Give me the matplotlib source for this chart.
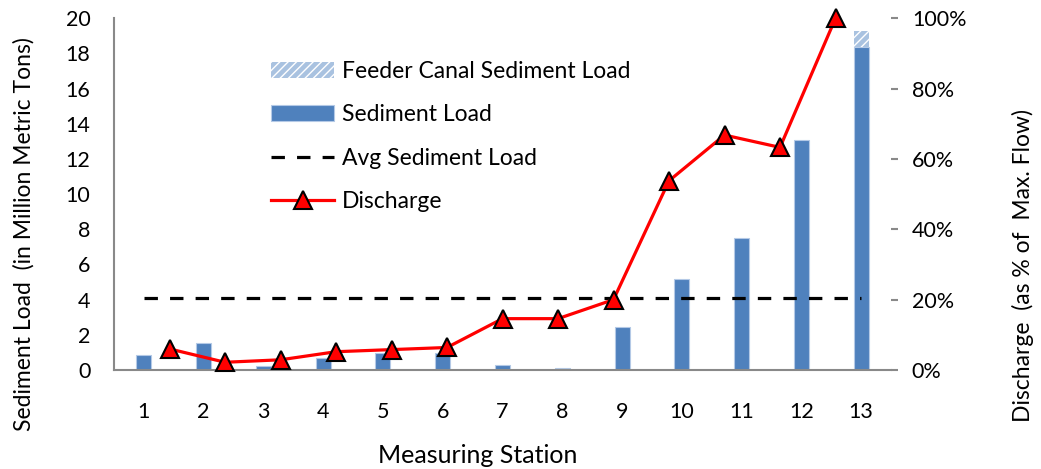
import matplotlib
matplotlib.use("Agg")
import matplotlib.pyplot as plt
from matplotlib.ticker import FuncFormatter

# ---- data ----
stations = ["1", "2", "3", "4", "5", "6", "7", "8", "9", "10", "11", "12", "13"]
sediment_load = [0.85, 1.52, 0.25, 0.70, 0.99, 0.99, 0.28, 0.12, 2.45, 5.15, 7.50, 13.10, 18.35]
feeder_load = [0, 0, 0, 0, 0, 0, 0, 0, 0, 0, 0, 0, 0.91]
discharge_pct = [6, 2.2, 2.9, 5.2, 5.8, 6.4, 14.6, 14.6, 20.0, 53.8, 66.8, 63.3, 100]
avg_sediment = 4.08

plt.rcParams['font.family'] = ['Lato', 'DejaVu Sans']
FS_TICK = 15.5
FS_LEG = 16.5
FS_YLAB = 16.5
FS_XLAB = 18
BLUE = '#4F81BD'
GRAY = '#898989'

W, H = 1041, 469
fig = plt.figure(figsize=(W / 100, H / 100), dpi=100)
pos = [114 / W, (H - 370) / H, (891 - 114) / W, (370 - 18.3) / H]

ax = fig.add_axes(pos)
x = list(range(1, len(stations) + 1))
bw = 0.25
b1 = ax.bar(x, sediment_load, width=bw, color=BLUE, edgecolor='#B4C9E6',
            linewidth=0.8, label='Sediment Load', zorder=2)
b2 = ax.bar(x, feeder_load, width=bw, bottom=sediment_load, color='#A9C2E0',
            edgecolor='white', hatch='////', linewidth=0,
            label='Feeder Canal Sediment Load', zorder=2)
avg_line, = ax.plot([1, 13], [avg_sediment, avg_sediment], color='black', lw=2.3,
                    linestyle=(0, (4.2, 3.8)), label='Avg Sediment Load', zorder=3)

ax.set_xlim(0.5, 13.5)
ax.set_ylim(0, 20)
ax.set_yticks(range(0, 21, 2))
ax.set_xticks(x)
ax.set_xticklabels(stations)
ax.tick_params(axis='y', length=0, pad=17, labelsize=FS_TICK)
ax.tick_params(axis='x', length=0, pad=23, labelsize=FS_TICK)
for s in ['top', 'right']:
    ax.spines[s].set_visible(False)
for s in ['left', 'bottom']:
    ax.spines[s].set_color(GRAY)
    ax.spines[s].set_linewidth(1.5)

# secondary axes for discharge (own category scale)
ax2 = fig.add_axes(pos, frameon=False)
ax2.patch.set_visible(False)
line, = ax2.plot(x, discharge_pct, color='#FF0000', lw=2.3, marker='^',
                 markersize=13, markerfacecolor='#FF0000', markeredgecolor='black',
                 markeredgewidth=1.5, label='Discharge', zorder=4, clip_on=False)
ax2.set_xlim(0, 14)
ax2.set_ylim(0, 100)
ax2.xaxis.set_visible(False)
ax2.yaxis.tick_right()
ax2.set_yticks(range(0, 101, 20))
ax2.yaxis.set_major_formatter(FuncFormatter(lambda v, p: f"{int(v)}%"))
ax2.tick_params(axis='y', direction='out', length=5, width=1.5, color=GRAY,
                pad=10, labelsize=FS_TICK)
ax2.spines['right'].set_visible(True)
ax2.spines['right'].set_color(GRAY)
ax2.spines['right'].set_linewidth(1.5)

# labels
fig.text(24 / W, 1 - 234 / H, 'Sediment Load  (in Million Metric Tons)', rotation=90,
         ha='center', va='center', fontsize=FS_YLAB)
fig.text(1023 / W, 1 - 265 / H, 'Discharge  (as % of  Max. Flow)', rotation=90,
         ha='center', va='center', fontsize=FS_YLAB)
fig.text(478 / W, 1 - 455 / H, 'Measuring Station', ha='center', va='center', fontsize=FS_XLAB)

leg = ax2.legend([b2, b1, avg_line, line],
                 ['Feeder Canal Sediment Load', 'Sediment Load', 'Avg Sediment Load', 'Discharge'],
                 loc='upper left', bbox_to_anchor=(262 / W, 1 - 52 / H),
                 bbox_transform=fig.transFigure, frameon=False, fontsize=FS_LEG,
                 handlelength=2.75, handleheight=0.7, labelspacing=0.97, handletextpad=0.35,
                 borderaxespad=0)

fig.savefig('out.png', dpi=100)
